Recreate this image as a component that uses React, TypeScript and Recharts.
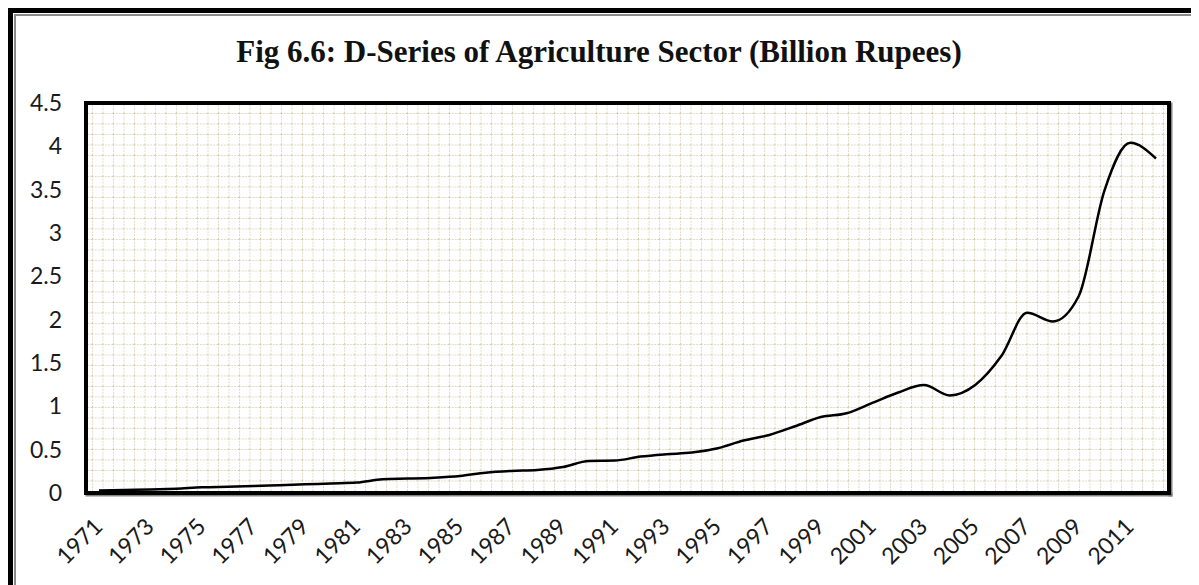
import { LineChart, Line, XAxis, YAxis, CartesianGrid } from 'recharts';

const years = [
  '1971', '1972', '1973', '1974', '1975', '1976', '1977', '1978', '1979', '1980',
  '1981', '1982', '1983', '1984', '1985', '1986', '1987', '1988', '1989', '1990',
  '1991', '1992', '1993', '1994', '1995', '1996', '1997', '1998', '1999', '2000',
  '2001', '2002', '2003', '2004', '2005', '2006', '2007', '2008', '2009', '2010',
  '2011', '2012',
];

const dSeries = [
  0.03, 0.035, 0.04, 0.05, 0.065, 0.072, 0.08, 0.09, 0.1, 0.11,
  0.12, 0.158, 0.166, 0.177, 0.197, 0.235, 0.255, 0.266, 0.3, 0.37,
  0.374, 0.42, 0.447, 0.466, 0.517, 0.605, 0.67, 0.77, 0.876, 0.92,
  1.04, 1.16, 1.245, 1.126, 1.25, 1.58, 2.08, 1.98, 2.27, 3.49,
  4.04, 3.86,
];

const yTicks = [0, 0.5, 1, 1.5, 2, 2.5, 3, 3.5, 4, 4.5];

const chartData = years.map((year, i) => ({ year, value: dSeries[i] }));

const TICK_FONT = 'Lato, "Open Sans", sans-serif';
const frameLine = { stroke: '#000', strokeWidth: 4, strokeLinecap: 'square' as const };
const shadowedLine = { ...frameLine, filter: 'url(#frameShadow)' };

// year labels slanted up to the right, ending just under their point
const YearTick = ({ x, y, payload }: any) => (
  <text
    x={x + 5}
    y={y + 27}
    transform={`rotate(-45, ${x + 5}, ${y + 27})`}
    textAnchor="end"
    fontFamily={TICK_FONT}
    fontSize={23}
    fill="#1a1a1a"
  >
    {payload.value}
  </text>
);

const App = () => {
  return (
    <div
      style={{
        position: 'relative',
        width: 1191,
        height: 577,
        boxSizing: 'border-box',
        borderTop: '5px solid #000',
        borderLeft: '5px solid #000',
        background: '#fff',
      }}
    >
      {/* dotted minor grid used as plot background, and the frame's drop shadow */}
      <svg width={0} height={0} style={{ position: 'absolute' }}>
        <defs>
          <pattern id="minorGrid" width={10.5} height={10.5} patternUnits="userSpaceOnUse">
            <rect width={10.5} height={10.5} fill="#fff" />
            <path
              d="M 0.5 0 L 0.5 10.5 M 0 0.5 L 10.5 0.5"
              stroke="#d8cfb2"
              strokeWidth={1}
              strokeDasharray="1.5 1.5"
              fill="none"
            />
          </pattern>
          <filter id="frameShadow" filterUnits="userSpaceOnUse" x={0} y={0} width={1300} height={700}>
            <feDropShadow dx={1.5} dy={1.5} stdDeviation={0.6} floodColor="#777" floodOpacity={0.9} />
          </filter>
        </defs>
      </svg>
      <div
        style={{
          position: 'absolute',
          top: 1,
          left: 1,
          right: 0,
          bottom: 0,
          borderTop: '2px solid #8a8a8a',
          borderLeft: '2px solid #8a8a8a',
        }}
      />
      <div
        style={{
          position: 'absolute',
          top: 21,
          left: 0,
          width: 1172,
          textAlign: 'center',
          fontFamily: '"Liberation Serif", "Times New Roman", serif',
          fontWeight: 'bold',
          fontSize: 31,
          color: '#111',
        }}
      >
        Fig 6.6: D-Series of Agriculture Sector (Billion Rupees)
      </div>
      <div style={{ position: 'absolute', top: -5, left: -5 }}>
        <LineChart
          width={1191}
          height={577}
          data={chartData}
          margin={{ top: 94, right: 29, bottom: 12, left: 18 }}
        >
          <CartesianGrid horizontal={false} vertical={false} fill="url(#minorGrid)" fillOpacity={1} />
          <XAxis
            dataKey="year"
            interval={1}
            padding={{ left: 13, right: 13 }}
            tickLine={false}
            axisLine={shadowedLine}
            height={80}
            tick={<YearTick />}
          />
          <XAxis
            xAxisId="top"
            dataKey="year"
            orientation="top"
            height={1}
            tick={false}
            tickLine={false}
            axisLine={frameLine}
          />
          <YAxis
            domain={[0, 4.5]}
            ticks={yTicks}
            width={60}
            tickLine={false}
            axisLine={frameLine}
            tickMargin={18}
            tick={{ fontFamily: TICK_FONT, fontSize: 23, fill: '#1a1a1a' }}
          />
          <YAxis
            yAxisId="right"
            orientation="right"
            domain={[0, 4.5]}
            width={1}
            tick={false}
            tickLine={false}
            axisLine={shadowedLine}
          />
          <Line
            type="monotone"
            dataKey="value"
            stroke="#000"
            strokeWidth={2.5}
            dot={false}
            isAnimationActive={false}
          />
        </LineChart>
      </div>
    </div>
  );
};

export default App;
